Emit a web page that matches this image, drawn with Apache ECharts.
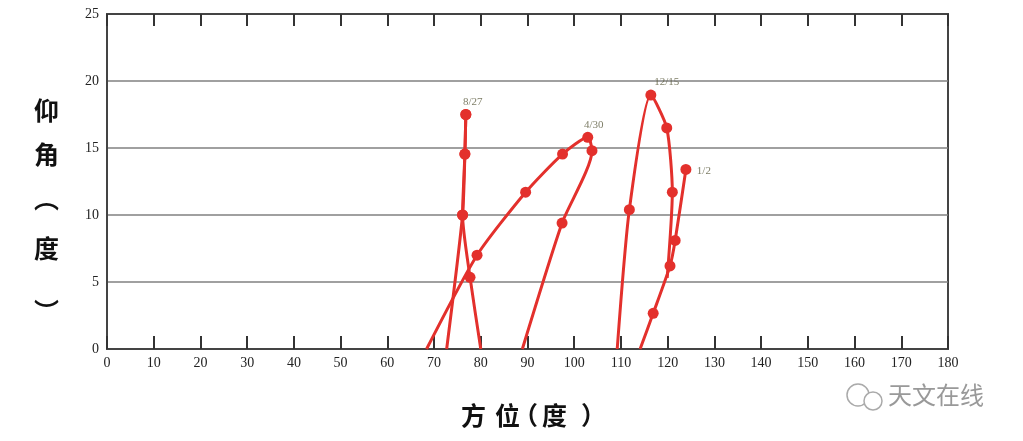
<!DOCTYPE html>
<html>
<head>
<meta charset="utf-8">
<script src="https://cdn.jsdelivr.net/npm/echarts@6/dist/echarts.min.js"></script>
<style>html,body{margin:0;padding:0;background:#fff;}#c{width:1023px;height:441px;}</style>
</head>
<body>
<div id="c"></div>
<script>
// x ticks (azimuth, degrees) and y ticks (elevation, degrees)
var xTicks = [0,10,20,30,40,50,60,70,80,90,100,110,120,130,140,150,160,170,180];
var yTicks = [0,5,10,15,20,25];

// track segments: [azimuth, elevation, hasDot]
var trackA = [[68.4,0,0],[79.2,7.0,1],[89.6,11.7,1],[97.5,14.55,1],[102.9,15.8,1],[103.8,14.8,1],[97.4,9.4,1],[88.9,0,0]];
var trackB = [[72.7,0,0],[76.1,10.0,1],[76.6,14.55,1],[76.8,17.5,1]];
var trackC = [[76.8,17.5,1],[76.6,14.55,1],[76.1,10.0,1],[77.7,5.35,1],[80.0,0,0]];
var trackD = [[109.2,0,0],[111.8,10.4,1],[116.4,18.95,1],[119.8,16.5,1],[121.0,11.7,1],[119.9,5.3,0]];
var trackE = [[114.1,0,0],[116.9,2.66,1],[120.5,6.2,1],[121.6,8.1,1],[123.9,13.4,1]];

// date labels
var dateNames = ['8/27','4/30','12/15','1/2'];
var datePoints = [[76.8,17.5],[102.9,15.8],[116.4,18.95],[123.9,13.4]];

var labelOffsets = [[7,-2],[6,-2],[16,-2],[18,12]];

var red = '#e3302c';
function mkSeries(track){
  return {
    type:'line', smooth:0.22, z:3,
    lineStyle:{color:red,width:3},
    itemStyle:{color:red},
    symbol:'circle',
    data: track.map(function(p){ return {value:[p[0],p[1]], symbolSize: p[2] ? 11 : 0}; })
  };
}
var series = [trackA,trackB,trackC,trackD,trackE].map(mkSeries);
series.push({
  type:'scatter', symbolSize:0, z:4,
  data: datePoints.map(function(p,i){
    return {value:p, label:{show:true, formatter:dateNames[i], position:'top', offset:labelOffsets[i],
      color:'#5c5c40', fontFamily:'Liberation Serif', fontSize:11}};
  })
});

var chart = echarts.init(document.getElementById('c'), null, {renderer:'canvas'});
var serif = 'Liberation Serif';
var cjkB = 'bold 25px "Noto Sans CJK SC"';
chart.setOption({
  animation:false,
  backgroundColor:'#fff',
  grid:{left:107,right:75,top:14,bottom:92, show:true, borderColor:'#444', borderWidth:2, backgroundColor:'transparent'},
  xAxis:[{
    type:'value', min:xTicks[0], max:xTicks[xTicks.length-1], interval:10, position:'bottom',
    axisLine:{show:true,lineStyle:{color:'#444',width:2}},
    axisTick:{show:true,inside:true,length:13,lineStyle:{color:'#333',width:2}},
    axisLabel:{color:'#222',fontFamily:serif,fontSize:14,margin:7},
    splitLine:{show:false}
  },{
    type:'value', min:xTicks[0], max:xTicks[xTicks.length-1], interval:10, position:'top',
    axisLine:{show:true,lineStyle:{color:'#444',width:2}},
    axisTick:{show:true,inside:true,length:12,lineStyle:{color:'#333',width:2}},
    axisLabel:{show:false}, splitLine:{show:false}
  }],
  yAxis:[{
    type:'value', min:yTicks[0], max:yTicks[yTicks.length-1], interval:5,
    axisLine:{show:true,lineStyle:{color:'#444',width:2}},
    axisTick:{show:false},
    axisLabel:{color:'#222',fontFamily:serif,fontSize:14,margin:8},
    splitLine:{show:true,lineStyle:{color:'#808080',width:1.5}}
  }],
  graphic:[
    {type:'text', left:34, top:98, style:{text:'仰', font:cjkB, fill:'#111'}},
    {type:'text', left:34, top:142, style:{text:'角', font:cjkB, fill:'#111'}},
    {type:'text', left:34, top:186, style:{text:'︵', font:cjkB, fill:'#111'}},
    {type:'text', left:34, top:236, style:{text:'度', font:cjkB, fill:'#111'}},
    {type:'text', left:34, top:299, style:{text:'︶', font:cjkB, fill:'#111'}},
    {type:'text', left:461, top:403, style:{text:'方', font:cjkB, fill:'#111'}},
    {type:'text', left:495, top:403, style:{text:'位', font:cjkB, fill:'#111'}},
    {type:'text', left:513, top:403, style:{text:'（', font:cjkB, fill:'#111'}},
    {type:'text', left:542, top:403, style:{text:'度', font:cjkB, fill:'#111'}},
    {type:'text', left:581, top:403, style:{text:'）', font:cjkB, fill:'#111'}},
    {type:'circle', shape:{cx:858,cy:395,r:11}, style:{fill:'none',stroke:'#aaa',lineWidth:1.5}},
    {type:'circle', shape:{cx:873,cy:401,r:9}, style:{fill:'#fff',stroke:'#aaa',lineWidth:1.5}},
    {type:'text', left:888, top:383, style:{text:'天文在线', font:'24px "Noto Sans CJK SC"', fill:'#999'}}
  ],
  series: series
});
</script>
</body>
</html>
